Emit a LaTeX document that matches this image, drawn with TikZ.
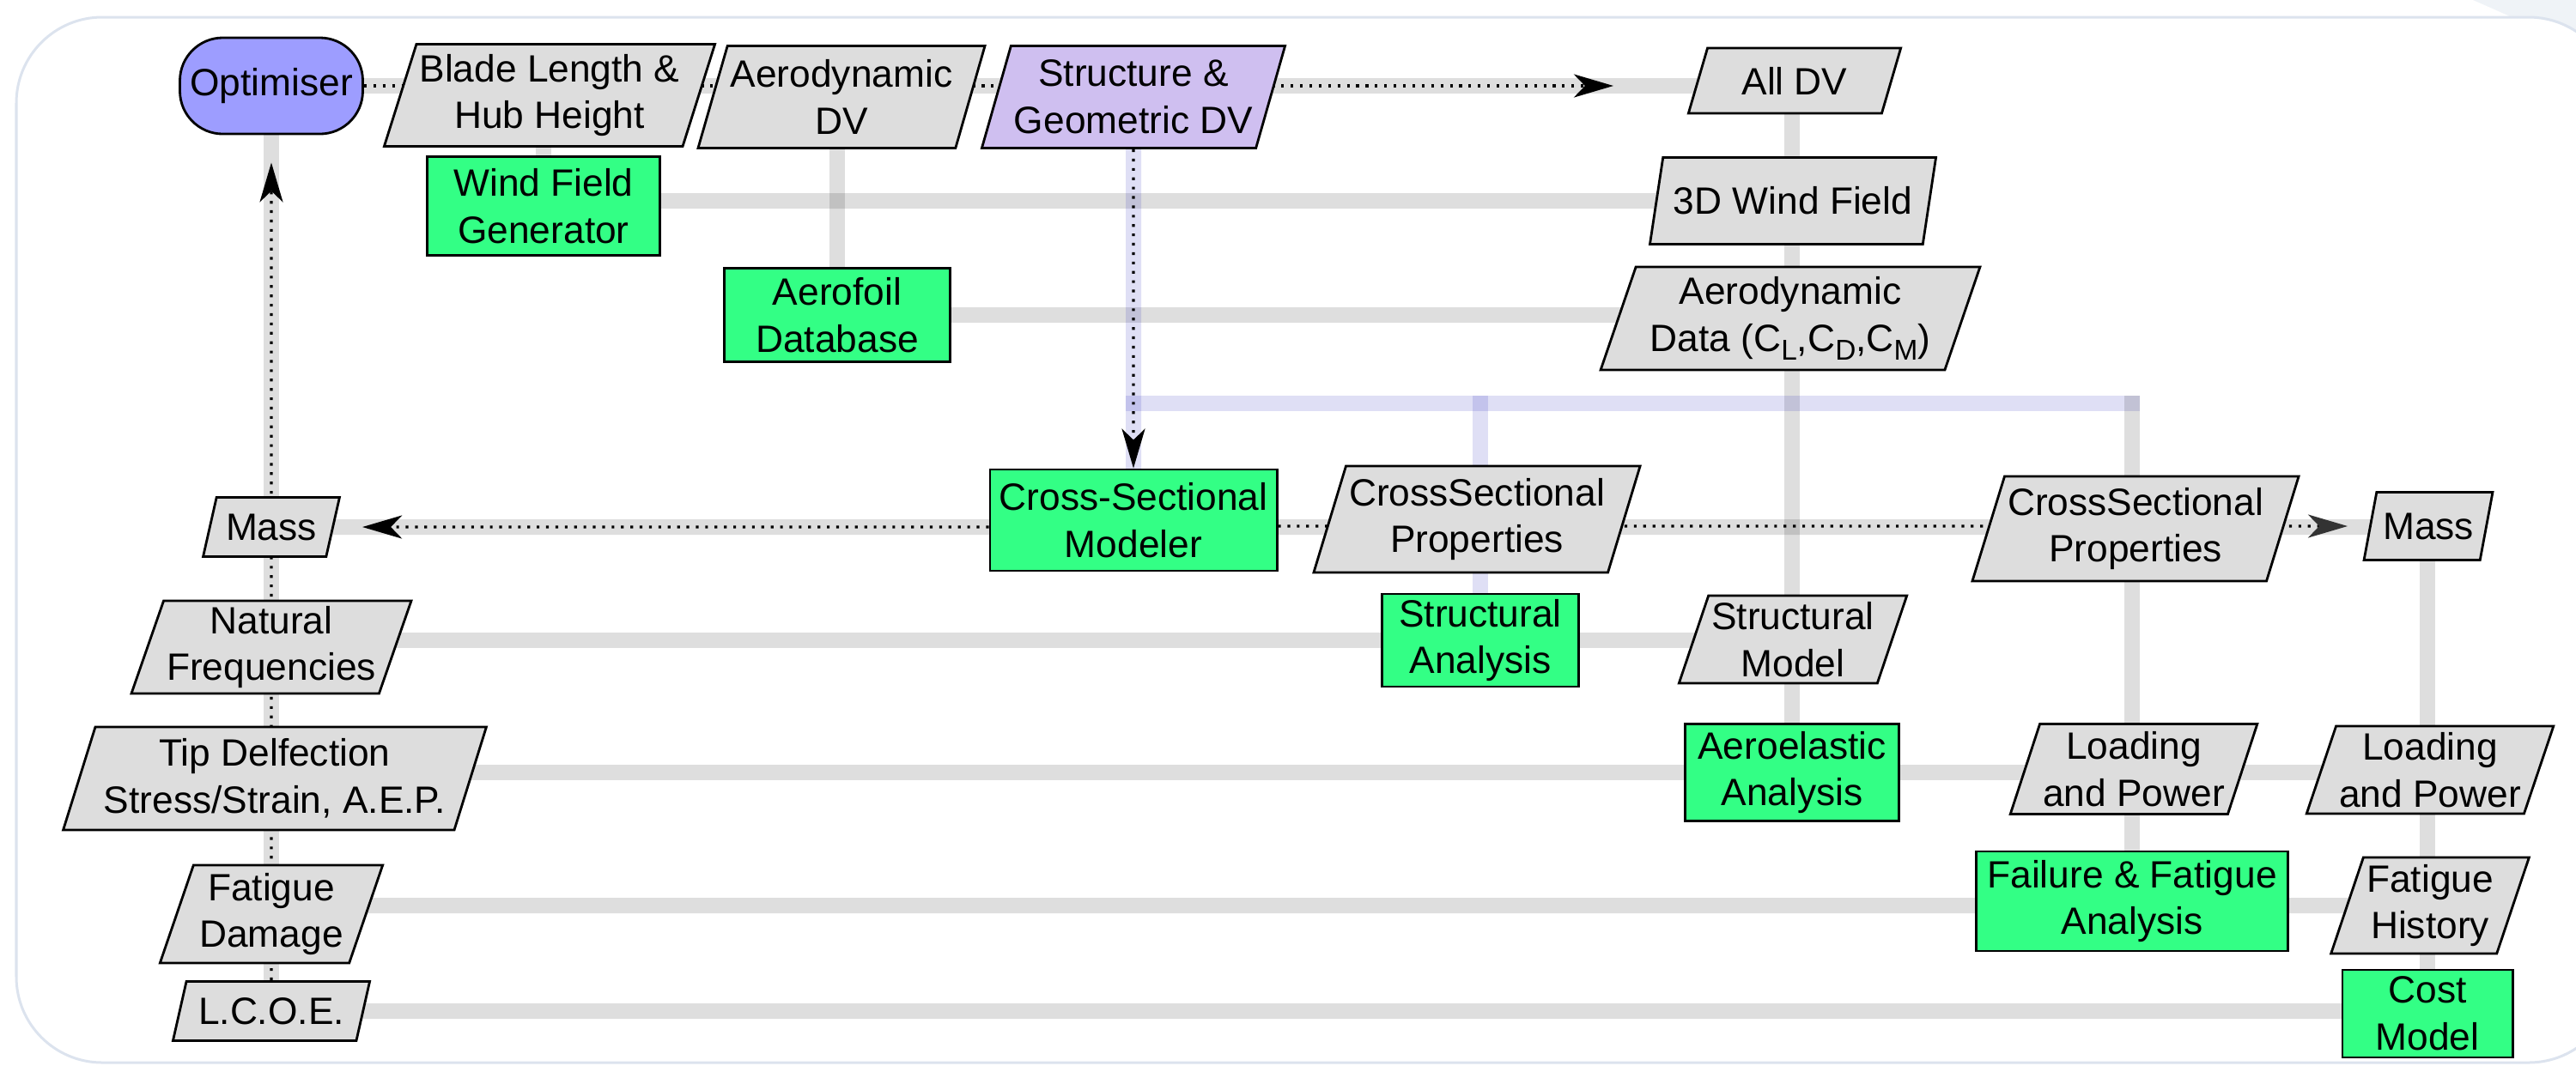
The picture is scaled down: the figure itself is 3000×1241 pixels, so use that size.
\documentclass[tikz,border=0pt]{standalone}
\usepackage{fontspec}
\setmainfont{Liberation Sans}
\usepackage{tikz}
\usetikzlibrary{arrows.meta,positioning,shapes.geometric,backgrounds}

\definecolor{optblue}{HTML}{9D9DFF}
\definecolor{dvlilac}{HTML}{CFBFF0}
\definecolor{toolgreen}{HTML}{33FF85}
\definecolor{datagray}{HTML}{DDDDDD}
\definecolor{framegray}{HTML}{DCE3EE}
\definecolor{busblue}{RGB}{0,0,180}

\newcommand{\sub}[1]{\raisebox{-3pt}{\fontsize{9.5}{9.5}\selectfont #1}}

\begin{document}
\begin{tikzpicture}[x=0.01cm, y=-0.01cm,
	every node/.style={font=\fontsize{12.6}{15.6}\selectfont, align=center, line width=0.8pt},
	optim/.style={rectangle, rounded corners=0.5cm, draw, fill=optblue, minimum width=2.12cm, minimum height=1.12cm},
	data/.style={trapezium, trapezium left angle=70, trapezium right angle=110, trapezium stretches=true, draw, fill=datagray, inner sep=1pt},
	tool/.style={rectangle, draw, fill=toolgreen, inner sep=1pt},
	sz/.style 2 args={minimum width=#1cm, minimum height=#2cm},
	dataline/.style={draw=black, draw opacity=0.13, line width=0.18cm, line cap=rect},
	dvline/.style={draw=busblue, draw opacity=0.125, line width=0.18cm, line cap=rect},
	flow/.style={dash pattern=on 0.9pt off 2.2pt, line width=0.9pt, -{Stealth[length=0.46cm, width=0.27cm, inset=0.13cm]}}]
	\useasboundingbox (0,0) rectangle (3000,1241);
	% design variables
	\node[optim] (opt) at (316,100) {Optimiser};
	\node[data, sz={3.73}{1.19}] (blade) at (640,111) {Blade Length \&\\Hub Height};
	\node[data, sz={3.25}{1.19}] (adv) at (980,113) {Aerodynamic\\DV};
	\node[data, sz={3.41}{1.19}, fill=dvlilac] (sdv) at (1320,113) {Structure \&\\Geometric DV};
	\node[data, sz={2.48}{0.76}] (alldv) at (2090,94) {All DV};
	% wind and aerofoil
	\node[tool, sz={2.71}{1.15}] (wfg) at (633,240) {Wind Field\\Generator};
	\node[data, sz={3.36}{1.01}] (wf3d) at (2088,234) {3D Wind Field};
	\node[tool, sz={2.63}{1.09}] (afoil) at (975,367) {Aerofoil\\Database};
	\node[data, sz={4.42}{1.20}] (adata) at (2085,371) {Aerodynamic\\Data (C\sub{L},C\sub{D},C\sub{M})};
	\coordinate (bus) at (1320,470);
	% cross sections
	\node[tool, sz={3.34}{1.18}] (csm) at (1320,606) {Cross-Sectional\\Modeler};
	\node[data, sz={1.59}{0.69}] (massl) at (316,614) {Mass};
	\node[data, sz={3.73}{1.24}] (csp1) at (1720,605) {CrossSectional\\Properties};
	\node[data, sz={3.67}{1.22}] (csp2) at (2487,616) {CrossSectional\\Properties};
	\node[data, sz={1.50}{0.79}] (massr) at (2828,613) {Mass};
	% structure
	\node[data, sz={3.09}{1.08}] (nfreq) at (316,754) {Natural\\Frequencies};
	\node[tool, sz={2.29}{1.08}] (sa) at (1724,746) {Structural\\Analysis};
	\node[data, sz={2.53}{1.02}] (smodel) at (2088,745) {Structural\\Model};
	% aeroelastic
	\node[data, sz={4.93}{1.20}] (tip) at (320,907) {Tip Delfection\\Stress/Strain, A.E.P.};
	\node[tool, sz={2.49}{1.13}] (aeroel) at (2087,900) {Aeroelastic\\Analysis};
	\node[data, sz={2.87}{1.05}] (lp1) at (2485,896) {Loading\\and Power};
	\node[data, sz={2.77}{1.02}] (lp2) at (2830,897) {Loading\\and Power};
	% fatigue and cost
	\node[data, sz={2.61}{1.14}] (fdam) at (316,1065) {Fatigue\\Damage};
	\node[tool, sz={3.63}{1.16}] (ffa) at (2483,1050) {Failure \& Fatigue\\Analysis};
	\node[data, sz={2.32}{1.12}] (fhist) at (2830,1055) {Fatigue\\History};
	\node[data, sz={2.30}{0.69}] (lcoe) at (316,1178) {L.C.O.E.};
	\node[tool, sz={1.98}{1.02}] (cost) at (2827,1181) {Cost\\Model};
	\begin{scope}[on background layer]
		% frame
		\fill[framegray!45] (2880,0) -- (3000,0) -- (3000,75) .. controls (2960,35) .. (2880,0);
		\draw[framegray, line width=0.03cm, fill=white, rounded corners=1cm] (19,20) rectangle (3045,1238);
		% data lines
		\draw[dataline] (opt) -- (opt -| alldv);
		\draw[dataline] (opt) -- (opt |- lcoe);
		\draw[dataline] (wfg) -- (wfg |- blade);
		\draw[dataline] (wfg |- wf3d) -- (wf3d);
		\draw[dataline] (afoil) -- (afoil |- adv);
		\draw[dataline] (afoil) -- (afoil -| adata);
		\draw[dataline] (aeroel) -- (aeroel |- alldv);
		\draw[dvline] (sdv) -- (csm);
		\draw[dvline] (bus) -- (bus -| ffa);
		\draw[dvline] (sa) -- (sa |- bus);
		\draw[dataline] (ffa) -- (ffa |- bus);
		\draw[dataline] (massl) -- (massl -| massr);
		\draw[dataline] (cost) -- (cost |- massr);
		\draw[dataline] (sa -| nfreq) -- (sa -| smodel);
		\draw[dataline] (aeroel -| tip) -- (aeroel -| lp2);
		\draw[dataline] (fhist -| fdam) -- (fhist);
		\draw[dataline] (lcoe) -- (lcoe -| cost);
		% process flow
		\draw[flow, shorten >=0.97cm] (opt) -- (opt -| alldv.west);
		\draw[flow, shorten >=0.32cm] (lcoe) -- (opt);
		\draw[flow] (sdv) -- (csm);
		\draw[flow, shorten >=0.33cm] (csm.west |- massl) -- (massl);
		\draw[flow, shorten >=0.25cm, -{Stealth[length=0.46cm, width=0.27cm, inset=0.13cm, black!80]}] (csm.east |- massr) -- (massr);
	\end{scope}
\end{tikzpicture}
\end{document}
